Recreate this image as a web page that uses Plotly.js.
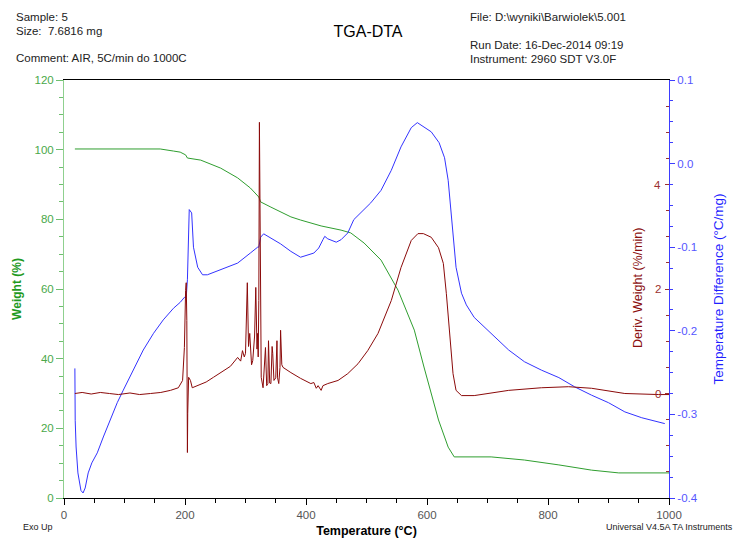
<!DOCTYPE html>
<html>
<head>
<meta charset="utf-8">
<script src="https://cdn.plot.ly/plotly-3.0.1.min.js"></script>
<style>
  html, body { margin: 0; padding: 0; background: #ffffff; }
  #chart { width: 736px; height: 540px; }
</style>
</head>
<body>
<div id="chart"></div>
<script>
// ---- Weight (%) vs temperature ----
const weightTemp = [18, 159, 181, 192, 201, 204, 226, 259, 287, 308, 322, 325, 342, 375, 391, 425, 458, 474, 496, 524, 552, 579, 595, 619, 635, 645, 706, 761, 818, 872, 917, 993, 1000];
const weightPct  = [100.2, 100.2, 99.6, 99.3, 98.5, 97.6, 97.0, 94.7, 91.9, 89.0, 86.4, 85.0, 83.5, 80.7, 79.8, 78.1, 76.9, 76.1, 73.2, 68.3, 59.7, 48.2, 37.6, 22.4, 14.6, 11.8, 11.8, 10.9, 9.5, 8.0, 7.2, 7.2, 7.2];

// ---- Deriv. Weight (%/min) vs temperature ----
const derivTemp = [18, 30, 45, 60, 75, 90, 109, 125, 143, 160, 176, 189, 196, 199, 201, 202, 203, 204, 204.5, 206, 209, 212, 221, 235, 247, 262, 275, 287, 292, 295, 298, 300, 303, 305, 307, 310, 312, 315, 317, 319, 320, 321, 322, 323, 324.5, 326, 329, 331, 333, 335, 337, 338, 340, 342, 344, 345, 347, 350, 352, 353, 355, 357, 358, 360, 362, 375, 391, 408, 413, 417, 420, 425, 428, 436, 453, 469, 486, 502, 519, 541, 557, 574, 585, 594, 607, 619, 627, 632, 637, 643, 648, 657, 678, 735, 789, 834, 872, 927, 983, 1000];
const derivWeight = [0.00, 0.02, -0.01, 0.02, 0.00, -0.02, 0.01, -0.02, 0.00, 0.02, 0.06, 0.11, 0.25, 0.88, 1.97, 2.12, 1.40, -1.13, -0.38, 0.31, 0.25, 0.11, 0.15, 0.22, 0.31, 0.42, 0.52, 0.69, 0.62, 0.82, 0.70, 0.77, 2.12, 0.90, 1.15, 0.55, 0.63, 1.10, 2.03, 0.85, 1.15, 0.70, 1.78, 5.19, 3.06, 0.31, 0.11, 0.60, 0.88, 0.15, 0.19, 1.01, 0.20, 0.19, 0.90, 0.77, 0.25, 0.30, 1.01, 0.30, 0.19, 0.50, 1.21, 0.55, 0.50, 0.40, 0.29, 0.19, 0.21, 0.10, 0.15, 0.06, 0.15, 0.19, 0.25, 0.38, 0.57, 0.82, 1.15, 1.78, 2.41, 2.93, 3.06, 3.06, 2.99, 2.79, 2.49, 1.91, 1.15, 0.38, 0.06, -0.04, -0.04, 0.06, 0.11, 0.13, 0.10, 0.00, -0.02, -0.02];

// ---- Temperature Difference (°C/mg) vs temperature ----
const dtaTemp = [18, 18.5, 20, 23, 28, 31.5, 35, 40, 46, 55, 65, 76, 88, 98, 114, 131, 148, 164, 181, 192, 199, 202, 204, 206, 207, 211, 214, 221, 229, 237, 259, 287, 308, 320, 322, 325, 330, 342, 358, 375, 391, 413, 421, 428, 431, 436, 450, 458, 469, 479, 491, 507, 524, 541, 557, 574, 584, 590, 607, 620, 629, 635, 640, 648, 657, 665, 678, 706, 735, 761, 789, 818, 844, 872, 900, 927, 955, 993];
const tempDiff = [-0.245, -0.307, -0.339, -0.370, -0.391, -0.394, -0.388, -0.370, -0.358, -0.346, -0.327, -0.307, -0.286, -0.271, -0.247, -0.223, -0.203, -0.187, -0.173, -0.166, -0.160, -0.160, -0.139, -0.083, -0.055, -0.059, -0.100, -0.124, -0.133, -0.133, -0.127, -0.119, -0.107, -0.100, -0.100, -0.088, -0.084, -0.089, -0.096, -0.105, -0.112, -0.107, -0.101, -0.091, -0.087, -0.090, -0.094, -0.091, -0.083, -0.067, -0.058, -0.047, -0.032, -0.008, 0.020, 0.043, 0.049, 0.046, 0.038, 0.025, 0.007, -0.020, -0.064, -0.124, -0.155, -0.169, -0.184, -0.203, -0.223, -0.237, -0.247, -0.256, -0.267, -0.277, -0.286, -0.297, -0.304, -0.311];

// ---- Tick labels ----
const xTickVals = [0, 200, 400, 600, 800, 1000];
const weightTickVals = [0, 20, 40, 60, 80, 100, 120];
const derivTickVals = [0, 2, 4];
const derivTickText = ["0", "2", "4"];
const dtaTickVals = [-0.4, -0.3, -0.2, -0.1, 0.0, 0.1];
const dtaTickText = ["-0.4", "-0.3", "-0.2", "-0.1", "0.0", "0.1"];

const FONT = "Arial, 'Liberation Sans', sans-serif";
const GREEN = "#2f9e2f";
const RED = "#8b0a0a";
const BLUE = "#3333ff";

const traces = [
  { x: weightTemp, y: weightPct, type: "scatter", mode: "lines", name: "Weight",
    line: { color: GREEN, width: 1 }, xaxis: "x", yaxis: "y", hoverinfo: "skip" },
  { x: dtaTemp, y: tempDiff, type: "scatter", mode: "lines", name: "Temperature Difference",
    line: { color: BLUE, width: 1 }, xaxis: "x", yaxis: "y2", hoverinfo: "skip" },
  { x: derivTemp, y: derivWeight, type: "scatter", mode: "lines", name: "Deriv. Weight",
    line: { color: RED, width: 1 }, xaxis: "x", yaxis: "y3", hoverinfo: "skip" }
];

const annotations = [
  { text: "Sample: 5", xref: "paper", yref: "paper", x: (14 - 64) / 604, y: (498 - 17) / 418,
    xanchor: "left", yanchor: "middle", showarrow: false, font: { family: FONT, size: 11.5, color: "#222222" } },
  { text: "Size:\u00a0\u00a07.6816 mg", xref: "paper", yref: "paper", x: (14 - 64) / 604, y: (498 - 31) / 418,
    xanchor: "left", yanchor: "middle", showarrow: false, font: { family: FONT, size: 11.5, color: "#222222" } },
  { text: "Comment: AIR, 5C/min do 1000C", xref: "paper", yref: "paper", x: (14 - 64) / 604, y: (498 - 58) / 418,
    xanchor: "left", yanchor: "middle", showarrow: false, font: { family: FONT, size: 11.5, color: "#222222" } },
  { text: "File: D:\\wyniki\\Barwiolek\\5.001", xref: "paper", yref: "paper", x: (467 - 64) / 604, y: (498 - 17) / 418,
    xanchor: "left", yanchor: "middle", showarrow: false, font: { family: FONT, size: 11.5, color: "#222222" } },
  { text: "Run Date: 16-Dec-2014 09:19", xref: "paper", yref: "paper", x: (467 - 64) / 604, y: (498 - 45) / 418,
    xanchor: "left", yanchor: "middle", showarrow: false, font: { family: FONT, size: 11.5, color: "#222222" } },
  { text: "Instrument: 2960 SDT V3.0F", xref: "paper", yref: "paper", x: (467 - 64) / 604, y: (498 - 59) / 418,
    xanchor: "left", yanchor: "middle", showarrow: false, font: { family: FONT, size: 11.5, color: "#222222" } },
  { text: "Exo Up", xref: "paper", yref: "paper", x: (21 - 64) / 604, y: (498 - 527) / 418,
    xanchor: "left", yanchor: "middle", showarrow: false, font: { family: FONT, size: 9, color: "#222222" } },
  { text: "Universal V4.5A TA Instruments", xref: "paper", yref: "paper", x: (734 - 64) / 604, y: (498 - 527) / 418,
    xanchor: "right", yanchor: "middle", showarrow: false, font: { family: FONT, size: 9, color: "#222222" } },
  { text: "Deriv. Weight (%/min)", xref: "paper", yref: "paper", x: (637 - 64) / 604, y: (498 - 288) / 418,
    xanchor: "center", yanchor: "middle", textangle: -90, showarrow: false,
    font: { family: FONT, size: 12.5, color: "#8b1010" } }
];
// Deriv. weight tick labels sit inside the plot, just left of the right axis
derivTickVals.forEach((v, i) => {
  annotations.push({ text: derivTickText[i], xref: "paper", yref: "y3", x: (662 - 64) / 604, y: v,
    xanchor: "right", yanchor: "middle", showarrow: false,
    font: { family: FONT, size: 11.5, color: "#9b3030" } });
});

const layout = {
  width: 736, height: 540,
  margin: { l: 64, r: 67, t: 80, b: 42, pad: 0 },
  paper_bgcolor: "#ffffff", plot_bgcolor: "#ffffff",
  showlegend: false,
  font: { family: FONT, size: 11.5, color: "#333333" },
  title: { text: "TGA-DTA", x: 0.5, xanchor: "center", xref: "container",
           y: 1 - 31 / 540, yanchor: "middle", yref: "container",
           font: { family: FONT, size: 16, color: "#000000" } },
  xaxis: {
    range: [0, 1000], tickvals: xTickVals, showgrid: false, zeroline: false,
    showline: true, linecolor: "#000000", linewidth: 1, mirror: true,
    ticks: "outside", ticklen: 6, tickcolor: "#000000",
    minor: { dtick: 50, tick0: 0, ticks: "outside", ticklen: 4, tickcolor: "#000000" },
    tickfont: { family: FONT, size: 11.5, color: "#555555" },
    title: { text: "Temperature (°C)", standoff: 6,
             font: { family: FONT, size: 12.5, color: "#000000", weight: "bold" } }
  },
  yaxis: {
    range: [0, 120], tickvals: weightTickVals, showgrid: false, zeroline: false,
    showline: true, linecolor: "#8fd08f", linewidth: 1,
    ticks: "outside", ticklen: 7, tickcolor: "#6fbf6f",
    minor: { dtick: 5, tick0: 0, ticks: "outside", ticklen: 4, tickcolor: "#6fbf6f" },
    tickfont: { family: FONT, size: 11.5, color: "#4aa84a" },
    title: { text: "Weight (%)", standoff: 10,
             font: { family: FONT, size: 12, color: "#1f9a1f", weight: "bold" } }
  },
  yaxis2: {
    overlaying: "y", side: "right", anchor: "x",
    range: [-0.4, 0.1], tickvals: dtaTickVals, ticktext: dtaTickText,
    showgrid: false, zeroline: false,
    showline: true, linecolor: "#3d3dff", linewidth: 1,
    ticks: "outside", ticklen: 5, tickcolor: "#3d3dff",
    minor: { dtick: 0.025, tick0: 0, ticks: "outside", ticklen: 3, tickcolor: "#3d3dff" },
    tickfont: { family: FONT, size: 11.5, color: "#5555ff" },
    title: { text: "Temperature Difference (°C/mg)", standoff: 16,
             font: { family: FONT, size: 13.5, color: "#1f1fff" } }
  },
  yaxis3: {
    overlaying: "y", side: "right", anchor: "x",
    range: [-2, 6], tickvals: derivTickVals,
    showgrid: false, zeroline: false, showline: false, showticklabels: false,
    ticks: "inside", ticklen: 4, tickcolor: "#9b3030",
    minor: { dtick: 0.5, tick0: 0, ticks: "inside", ticklen: 3, tickcolor: "#9b3030" }
  },
  annotations: annotations
};

Plotly.newPlot("chart", traces, layout, { staticPlot: true, displayModeBar: false });
</script>
</body>
</html>
